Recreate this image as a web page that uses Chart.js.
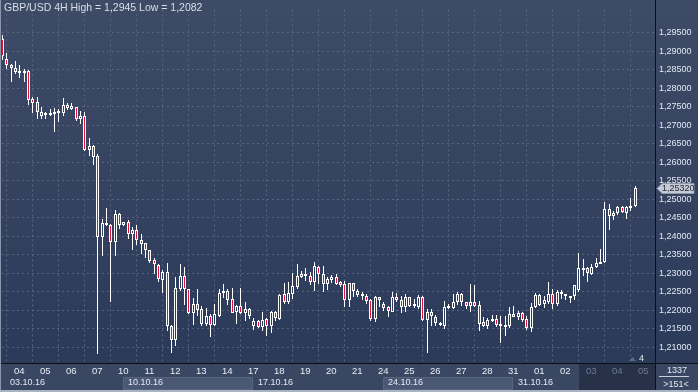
<!DOCTYPE html>
<html><head><meta charset="utf-8">
<script src="https://cdn.jsdelivr.net/npm/chart.js@4/dist/chart.umd.min.js"></script>
<style>html,body{margin:0;padding:0;background:#3a4763;overflow:hidden}#wrap{width:698px;height:392px;position:relative}canvas{display:block}</style>
</head><body><div id="wrap"><canvas id="c" width="698" height="392"></canvas></div>
<script>
// ---- data (GBP/USD 4H candles) ----
const opens = [
1.2934,1.2879,1.2855,1.2854,1.2848,1.2848,1.2846,1.2771,1.2762,1.2726,
1.2727,1.2727,1.2731,1.2732,1.2734,1.2748,1.2745,1.2750,1.2717,1.2726,
1.2634,1.2645,1.2616,1.2397,1.2437,1.2432,1.2385,1.2461,1.2432,1.2439,
1.2406,1.2418,1.2391,1.2382,1.2362,1.2337,1.2323,1.2283,1.2304,1.2157,
1.2120,1.2259,1.2292,1.2257,1.2192,1.2218,1.2203,1.2164,1.2184,1.2161,
1.2184,1.2246,1.2253,1.2231,1.2196,1.2212,1.2192,1.2205,1.2159,1.2171,
1.2155,1.2176,1.2159,1.2196,1.2178,1.2245,1.2224,1.2245,1.2264,1.2289,
1.2292,1.2294,1.2278,1.2317,1.2299,1.2271,1.2282,1.2290,1.2276,1.2271,
1.2227,1.2273,1.2253,1.2238,1.2239,1.2229,1.2176,1.2236,1.2218,1.2208,
1.2197,1.2236,1.2229,1.2210,1.2236,1.2213,1.2210,1.2236,1.2174,1.2197,
1.2183,1.2161,1.2157,1.2206,1.2206,1.2222,1.2245,1.2224,1.2211,1.2222,
1.2215,1.2168,1.2159,1.2171,1.2176,1.2157,1.2155,1.2157,1.2189,1.2182,
1.2192,1.2176,1.2153,1.2208,1.2241,1.2217,1.2222,1.2245,1.2217,1.2250,
1.2239,1.2236,1.2238,1.2254,1.2311,1.2315,1.2299,1.2317,1.2326,1.2331,
1.2475,1.2455,1.2462,1.2480,1.2464,1.2476,1.2482];
const highs = [
1.2945,1.2895,1.2866,1.2874,1.2864,1.2851,1.2850,1.2776,1.2776,1.2750,
1.2736,1.2745,1.2747,1.2743,1.2774,1.2761,1.2761,1.2750,1.2739,1.2736,
1.2666,1.2648,1.2623,1.2447,1.2476,1.2434,1.2471,1.2464,1.2439,1.2445,
1.2424,1.2432,1.2406,1.2383,1.2364,1.2341,1.2324,1.2309,1.2329,1.2160,
1.2289,1.2324,1.2318,1.2259,1.2234,1.2257,1.2213,1.2206,1.2189,1.2218,
1.2259,1.2271,1.2259,1.2261,1.2215,1.2261,1.2224,1.2206,1.2180,1.2174,
1.2197,1.2180,1.2199,1.2199,1.2243,1.2273,1.2276,1.2301,1.2324,1.2306,
1.2315,1.2304,1.2331,1.2320,1.2320,1.2289,1.2296,1.2297,1.2280,1.2280,
1.2273,1.2273,1.2259,1.2250,1.2243,1.2231,1.2239,1.2236,1.2224,1.2213,
1.2250,1.2248,1.2238,1.2245,1.2236,1.2231,1.2241,1.2238,1.2203,1.2203,
1.2187,1.2168,1.2226,1.2218,1.2245,1.2250,1.2248,1.2224,1.2271,1.2268,
1.2226,1.2182,1.2180,1.2187,1.2187,1.2184,1.2185,1.2210,1.2213,1.2199,
1.2196,1.2184,1.2220,1.2248,1.2243,1.2238,1.2278,1.2257,1.2254,1.2255,
1.2245,1.2239,1.2268,1.2355,1.2339,1.2317,1.2326,1.2341,1.2366,1.2494,
1.2487,1.2469,1.2482,1.2483,1.2482,1.2504,1.2537];
const lows = [
1.2876,1.2853,1.2816,1.2838,1.2829,1.2816,1.2756,1.2734,1.2717,1.2717,
1.2718,1.2724,1.2682,1.2708,1.2726,1.2741,1.2741,1.2711,1.2704,1.2631,
1.2618,1.2592,1.2082,1.2348,1.2427,1.2224,1.2348,1.2420,1.2427,1.2394,
1.2364,1.2376,1.2353,1.2342,1.2329,1.2298,1.2278,1.2246,1.2145,1.2085,
1.2103,1.2252,1.2215,1.2189,1.2161,1.2185,1.2157,1.2157,1.2129,1.2157,
1.2182,1.2233,1.2215,1.2192,1.2164,1.2189,1.2171,1.2178,1.2148,1.2153,
1.2145,1.2132,1.2138,1.2171,1.2173,1.2217,1.2217,1.2231,1.2259,1.2287,
1.2280,1.2269,1.2253,1.2271,1.2250,1.2255,1.2274,1.2268,1.2262,1.2208,
1.2208,1.2236,1.2236,1.2227,1.2218,1.2171,1.2169,1.2208,1.2199,1.2182,
1.2196,1.2224,1.2192,1.2196,1.2208,1.2206,1.2204,1.2171,1.2084,1.2157,
1.2157,1.2157,1.2150,1.2203,1.2203,1.2215,1.2213,1.2203,1.2197,1.2208,
1.2145,1.2155,1.2150,1.2169,1.2155,1.2113,1.2132,1.2152,1.2183,1.2174,
1.2168,1.2148,1.2141,1.2206,1.2211,1.2206,1.2218,1.2203,1.2211,1.2231,
1.2227,1.2220,1.2229,1.2250,1.2294,1.2276,1.2296,1.2315,1.2324,1.2327,
1.2417,1.2443,1.2457,1.2462,1.2447,1.2469,1.2479];
const closes = [
1.2887,1.2863,1.2863,1.2844,1.2845,1.2843,1.2769,1.2761,1.2736,1.2736,
1.2732,1.2732,1.2736,1.2738,1.2755,1.2755,1.2752,1.2718,1.2726,1.2634,
1.2643,1.2615,1.2397,1.2437,1.2430,1.2385,1.2461,1.2432,1.2439,1.2406,
1.2418,1.2389,1.2380,1.2362,1.2334,1.2324,1.2285,1.2304,1.2157,1.2120,
1.2261,1.2292,1.2257,1.2192,1.2218,1.2201,1.2164,1.2184,1.2161,1.2191,
1.2247,1.2253,1.2227,1.2194,1.2213,1.2192,1.2205,1.2185,1.2171,1.2156,
1.2174,1.2159,1.2196,1.2180,1.2241,1.2224,1.2247,1.2266,1.2292,1.2298,
1.2297,1.2276,1.2320,1.2297,1.2271,1.2285,1.2290,1.2271,1.2269,1.2227,
1.2273,1.2252,1.2241,1.2243,1.2226,1.2178,1.2236,1.2229,1.2206,1.2199,
1.2236,1.2227,1.2208,1.2236,1.2213,1.2218,1.2236,1.2174,1.2197,1.2185,
1.2166,1.2166,1.2210,1.2211,1.2224,1.2245,1.2222,1.2211,1.2222,1.2211,
1.2164,1.2159,1.2174,1.2176,1.2161,1.2162,1.2161,1.2189,1.2183,1.2192,
1.2174,1.2153,1.2210,1.2241,1.2215,1.2227,1.2245,1.2217,1.2250,1.2243,
1.2243,1.2239,1.2268,1.2315,1.2315,1.2301,1.2318,1.2329,1.2332,1.2474,
1.2454,1.2462,1.2478,1.2466,1.2478,1.2482,1.2532];

const dayTickIndex = [4,10,16,22,28,34,40,46,52,58,64,70,76,82,88,94,100,106,112,118,124,130,136,142,148];
const dayLabels = ['04','05','06','07','10','11','12','13','14','17','18','19','20','21','24','25','26','27','28','31','01','02','03','04','05'];
const futureLabelFrom = 22;
const weekLabels = ['03.10.16','10.10.16','17.10.16','24.10.16','31.10.16'];
const weekStartIndex = [-2,28,58,88,118];
const shadedWeeks = [1,3];
const futureFromIndex = 133.2;
const priceTicks = [1.210,1.215,1.220,1.225,1.230,1.235,1.240,1.245,1.250,1.255,1.260,1.265,1.270,1.275,1.280,1.285,1.290,1.295];
const titleText = 'GBP/USD 4H High = 1,2945 Low = 1,2082';
const panelTop = '1337', panelBottom = '>151<', shiftMark = '4';

// ---- style ----
const FONT = '"Liberation Sans", Arial, sans-serif';
const RED = '#dc143c';
const GRID = '#56647f';
const AREA_BOTTOM = 363;
let gradCache = null;
function bgGrad(chart) {
  if (!gradCache) {
    gradCache = chart.ctx.createLinearGradient(0, 0, 0, AREA_BOTTOM);
    gradCache.addColorStop(0, '#3e4b67');
    gradCache.addColorStop(1, '#2c3a5a');
  }
  return gradCache;
}
const fmt = v => v.toFixed(5).replace('.', ',');

const snapPlugin = {
  id: 'snap',
  afterDatasetsUpdate(chart) {
    chart.data.datasets.forEach((ds, di) => {
      const meta = chart.getDatasetMeta(di);
      meta.data.forEach(el => {
        el.x = Math.round(el.x) + 0.5;
        let t = Math.round(el.y), b = Math.round(el.base);
        if (di === 1 && Math.abs(t - b) < 2) { b = (b >= t) ? t + 2 : t - 2; }
        el.y = t; el.base = b;
      });
    });
  }
};

const decoPlugin = {
  id: 'deco',
  beforeDraw(chart) {
    const ctx = chart.ctx, W = chart.width, H = chart.height;
    const xs = chart.scales.x, a = chart.chartArea;
    ctx.save();
    ctx.fillStyle = bgGrad(chart);
    ctx.fillRect(0, 0, W, AREA_BOTTOM);
    ctx.fillStyle = '#3a4763';
    ctx.fillRect(0, AREA_BOTTOM, W, H - AREA_BOTTOM);
    shadedWeeks.forEach(w => {
      const x1 = Math.round(xs.getPixelForValue(weekStartIndex[w]));
      const x2 = Math.round(xs.getPixelForValue(weekStartIndex[w + 1]));
      ctx.fillStyle = '#4a5875';
      ctx.fillRect(x1, 377, x2 - x1, 13);
      ctx.strokeStyle = '#56647f';
      ctx.lineWidth = 1;
      ctx.strokeRect(x1 + 0.5, 377.5, x2 - x1 - 1, 12);
    });
    const fx = Math.round(xs.getPixelForValue(futureFromIndex));
    ctx.fillStyle = '#273249';
    ctx.fillRect(fx, AREA_BOTTOM + 1, a.right - fx, 390 - AREA_BOTTOM - 1);
    ctx.restore();
  },
  afterDraw(chart) {
    const ctx = chart.ctx, W = chart.width, H = chart.height;
    const xs = chart.scales.x, ys = chart.scales.y, a = chart.chartArea;
    ctx.save();
    ctx.fillStyle = '#0b0f18';
    ctx.fillRect(0, AREA_BOTTOM, W, 1);
    ctx.fillRect(a.right, 0, 1, H);
    ctx.fillStyle = '#8a96ab';
    ctx.fillRect(0, 0, 1, H);
    ctx.fillStyle = '#aab3c4';
    ctx.fillRect(0, 390, W, 2);
    ctx.font = '9px ' + FONT;
    ctx.textBaseline = 'middle';
    ctx.textAlign = 'left';
    ctx.fillStyle = '#e4e9f1';
    weekLabels.forEach((t, i) => {
      const px = Math.max(xs.getPixelForValue(weekStartIndex[i]) + 4.5, a.left + 8);
      ctx.fillText(t, Math.round(px), 382.5);
    });
    ctx.font = '10.5px ' + FONT;
    ctx.fillStyle = '#d9dee7';
    ctx.fillText(titleText, 4, 8.5);
    ctx.font = '9px ' + FONT;
    ctx.textAlign = 'center';
    ctx.fillStyle = '#e4e9f1';
    ctx.fillText(panelTop, 677, 371);
    ctx.fillText(panelBottom, 676, 384.5);
    ctx.fillStyle = '#c9d0dc';
    ctx.fillRect(659, 376, 30, 1);
    ctx.fillStyle = '#5d6884';
    ctx.beginPath();
    ctx.moveTo(629, 361); ctx.lineTo(632.5, 357); ctx.lineTo(636, 361); ctx.closePath(); ctx.fill();
    ctx.fillStyle = '#e4e9f1';
    ctx.fillText(shiftMark, 641.5, 359);
    const last = closes[closes.length - 1];
    const py = Math.round(ys.getPixelForValue(last)) + 0.5;
    ctx.beginPath();
    ctx.moveTo(a.right + 2, py);
    ctx.lineTo(a.right + 7, py - 5);
    ctx.lineTo(694, py - 5);
    ctx.lineTo(694, py + 5);
    ctx.lineTo(a.right + 7, py + 5);
    ctx.closePath();
    ctx.fillStyle = '#c5ccd7';
    ctx.fill();
    ctx.strokeStyle = '#8c96a8';
    ctx.lineWidth = 1;
    ctx.stroke();
    ctx.fillStyle = '#1e2430';
    ctx.textAlign = 'left';
    ctx.fillText(fmt(last), a.right + 7, py + 0.5);
    ctx.restore();
  }
};

const wickData = opens.map((o, i) => ({ x: i, y: [lows[i], highs[i]] }));
const bodyData = opens.map((o, i) => ({ x: i, y: [o, closes[i]] }));

const yTop = 0, pxPerPrice = 3800;
new Chart(document.getElementById('c'), {
  type: 'bar',
  data: {
    datasets: [
      { data: wickData, backgroundColor: '#ffffff', borderWidth: 0, barThickness: 1, grouped: false, order: 1, inflateAmount: 0 },
      { data: bodyData, backgroundColor: ctx => (ctx.dataIndex !== undefined && closes[ctx.dataIndex] >= opens[ctx.dataIndex]) ? bgGrad(ctx.chart) : RED,
        borderColor: '#ffffff', borderWidth: 1, borderSkipped: false, barThickness: 3, grouped: false, order: 0, inflateAmount: 0 }
    ]
  },
  options: {
    responsive: false, animation: false, devicePixelRatio: 1,
    layout: { padding: { left: 2, top: 0, right: 0, bottom: 0 } },
    plugins: { legend: { display: false }, tooltip: { enabled: false }, title: { display: false } },
    scales: {
      x: {
        type: 'linear', min: 0, max: 150.69, offset: false,
        afterBuildTicks: s => { s.ticks = dayTickIndex.map(v => ({ value: v })); },
        afterFit: s => { s.height = 392 - AREA_BOTTOM; },
        ticks: { autoSkip: false, maxRotation: 0, padding: 3, font: { family: FONT, size: 9.5 },
          color: c => c.index >= futureLabelFrom ? '#6f7b95' : '#e8edf4',
          callback: (v, i) => dayLabels[i] },
        grid: { color: GRID, lineWidth: 1, drawTicks: false },
        border: { display: true, color: '#0b0f18', width: 1, dash: [2, 3] }
      },
      y: {
        position: 'right',
        min: 1.25 - (AREA_BOTTOM - 195) / pxPerPrice, max: 1.25 + (195 - yTop) / pxPerPrice,
        afterBuildTicks: s => { s.ticks = priceTicks.map(v => ({ value: v })); },
        afterFit: s => { s.width = 43; },
        ticks: { padding: 4, font: { family: FONT, size: 9 }, color: '#e2e8f2', callback: v => fmt(v) },
        grid: { color: GRID, lineWidth: 1, drawTicks: false },
        border: { display: true, color: '#0b0f18', width: 1, dash: [2, 3] }
      }
    }
  },
  plugins: [snapPlugin, decoPlugin]
});
</script>
</body></html>
